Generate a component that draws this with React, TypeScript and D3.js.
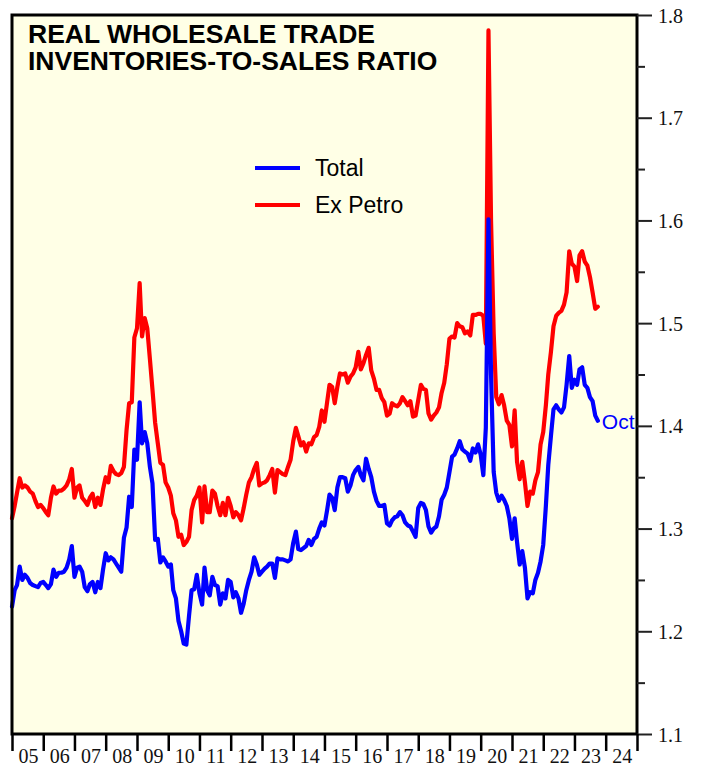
import React, { useEffect, useRef } from "react";
import * as d3 from "d3";

// monthly data, Jan 2005 .. Oct 2023
const START = new Date(2005, 0, 1);

const yearLabels = ["05", "06", "07", "08", "09", "10", "11", "12", "13", "14",
  "15", "16", "17", "18", "19", "20", "21", "22", "23", "24"];

const yMajorTicks = [1.1, 1.2, 1.3, 1.4, 1.5, 1.6, 1.7, 1.8];
const yMinorTicks = [1.15, 1.25, 1.35, 1.45, 1.55, 1.65, 1.75];

const totalRatio = [
  1.224, 1.240, 1.245, 1.263, 1.250, 1.255, 1.252, 1.247, 1.245, 1.244, 1.243, 1.247,
  1.248, 1.245, 1.242, 1.246, 1.260, 1.253, 1.257, 1.257, 1.258, 1.262, 1.270, 1.283,
  1.253, 1.262, 1.263, 1.258, 1.243, 1.239, 1.246, 1.248, 1.238, 1.248, 1.242, 1.260,
  1.276, 1.269, 1.272, 1.270, 1.266, 1.262, 1.258, 1.291, 1.301, 1.331, 1.321, 1.377,
  1.367, 1.423, 1.383, 1.394, 1.383, 1.360, 1.344, 1.289, 1.290, 1.267, 1.272, 1.268,
  1.263, 1.265, 1.240, 1.232, 1.210, 1.200, 1.188, 1.187, 1.215, 1.240, 1.241, 1.255,
  1.237, 1.226, 1.262, 1.240, 1.235, 1.253, 1.245, 1.244, 1.226, 1.237, 1.232, 1.250,
  1.248, 1.233, 1.238, 1.232, 1.218, 1.227, 1.240, 1.250, 1.258, 1.272, 1.265, 1.255,
  1.258, 1.261, 1.263, 1.266, 1.266, 1.252, 1.271, 1.270, 1.270, 1.269, 1.268, 1.270,
  1.286, 1.297, 1.280, 1.279, 1.281, 1.283, 1.289, 1.284, 1.290, 1.292, 1.300, 1.306,
  1.303, 1.318, 1.333, 1.330, 1.318, 1.340, 1.350, 1.350, 1.349, 1.336, 1.342, 1.352,
  1.357, 1.360, 1.352, 1.347, 1.368, 1.358, 1.350, 1.336, 1.327, 1.322, 1.322, 1.323,
  1.305, 1.303, 1.308, 1.311, 1.312, 1.316, 1.313, 1.306, 1.303, 1.302, 1.297, 1.292,
  1.320, 1.325, 1.324, 1.318, 1.302, 1.296, 1.300, 1.302, 1.312, 1.328, 1.333, 1.340,
  1.355, 1.370, 1.372, 1.378, 1.385, 1.377, 1.375, 1.373, 1.366, 1.378, 1.374, 1.382,
  1.372, 1.352, 1.398, 1.601, 1.450, 1.355, 1.335, 1.327, 1.332, 1.328, 1.322, 1.310,
  1.290, 1.310, 1.287, 1.265, 1.278, 1.262, 1.232, 1.238, 1.237, 1.250, 1.257, 1.268,
  1.284, 1.322, 1.362, 1.390, 1.416, 1.420, 1.416, 1.413, 1.418, 1.440, 1.468, 1.437,
  1.445, 1.440, 1.455, 1.457, 1.440, 1.437, 1.428, 1.424, 1.410, 1.405,
];

const exPetroRatio = [
  1.310, 1.322, 1.335, 1.349, 1.340, 1.342, 1.340, 1.336, 1.334, 1.327, 1.321, 1.323,
  1.320, 1.316, 1.313, 1.330, 1.341, 1.334, 1.337, 1.337, 1.339, 1.342, 1.348, 1.358,
  1.330, 1.340, 1.342, 1.330, 1.327, 1.323, 1.330, 1.334, 1.321, 1.330, 1.323, 1.338,
  1.350, 1.345, 1.361, 1.356, 1.353, 1.352, 1.354, 1.360, 1.396, 1.422, 1.423, 1.486,
  1.495, 1.539, 1.487, 1.505, 1.495, 1.465, 1.435, 1.403, 1.383, 1.364, 1.362, 1.345,
  1.340, 1.332, 1.315, 1.308, 1.292, 1.294, 1.284, 1.287, 1.292, 1.318, 1.328, 1.332,
  1.340, 1.306, 1.341, 1.316, 1.316, 1.337, 1.334, 1.322, 1.313, 1.325, 1.313, 1.330,
  1.322, 1.311, 1.316, 1.313, 1.308, 1.320, 1.333, 1.345, 1.350, 1.358, 1.364, 1.342,
  1.344, 1.345, 1.347, 1.352, 1.358, 1.335, 1.357, 1.355, 1.353, 1.352, 1.360, 1.367,
  1.385, 1.398, 1.390, 1.381, 1.384, 1.375, 1.383, 1.382, 1.389, 1.391, 1.399, 1.415,
  1.404, 1.423, 1.440, 1.438, 1.422, 1.438, 1.451, 1.450, 1.451, 1.442, 1.448, 1.451,
  1.457, 1.472, 1.455, 1.461, 1.469, 1.476, 1.454, 1.446, 1.435, 1.435, 1.427, 1.423,
  1.410, 1.412, 1.422, 1.420, 1.419, 1.422, 1.428, 1.424, 1.420, 1.424, 1.409, 1.410,
  1.425, 1.440, 1.436, 1.435, 1.412, 1.406, 1.410, 1.413, 1.418, 1.432, 1.442, 1.460,
  1.485, 1.487, 1.486, 1.500, 1.497, 1.496, 1.490, 1.492, 1.488, 1.508, 1.508, 1.509,
  1.509, 1.507, 1.480, 1.785, 1.600, 1.490, 1.428, 1.421, 1.430, 1.420, 1.405, 1.401,
  1.380, 1.415, 1.365, 1.348, 1.365, 1.345, 1.322, 1.336, 1.334, 1.347, 1.355, 1.382,
  1.394, 1.420, 1.450, 1.472, 1.497, 1.507, 1.510, 1.512, 1.518, 1.530, 1.570, 1.558,
  1.555, 1.541, 1.566, 1.570, 1.560, 1.556, 1.545, 1.530, 1.514, 1.516,
];

const W = 701;
const H = 767;

const App = () => {
  const svgRef = useRef(null);

  useEffect(() => {
    const svg = d3.select(svgRef.current);
    svg.selectAll("*").remove();

    const dims = { left: 12, right: 637, top: 15, bottom: 734 };

    const x = d3.scaleTime()
      .domain([START, new Date(2025, 0, 1)])
      .range([dims.left, dims.right]);
    const y = d3.scaleLinear()
      .domain([1.1, 1.8])
      .range([dims.bottom, dims.top]);

    const toSeries = (vals) => vals.map((v, i) => ({ date: d3.timeMonth.offset(START, i), v }));

    /** plot background */
    svg.append("rect")
      .attr("x", dims.left).attr("y", dims.top)
      .attr("width", dims.right - dims.left)
      .attr("height", dims.bottom - dims.top)
      .attr("fill", "#ffffe6");

    /** lines: ex petro first, total on top */
    const line = d3.line().x(d => x(d.date)).y(d => y(d.v));
    [[exPetroRatio, "#ff0000"], [totalRatio, "#0000ff"]].forEach(([vals, color]) => {
      svg.append("path")
        .datum(toSeries(vals))
        .attr("d", line)
        .attr("fill", "none")
        .attr("stroke", color)
        .attr("stroke-width", 4.2)
        .attr("stroke-linejoin", "round")
        .attr("stroke-linecap", "round");
    });

    /** frame */
    svg.append("rect")
      .attr("x", dims.left).attr("y", dims.top)
      .attr("width", dims.right - dims.left)
      .attr("height", dims.bottom - dims.top)
      .attr("fill", "none")
      .attr("stroke", "#000")
      .attr("stroke-width", 3);

    /** right axis */
    const yAxis = svg.append("g")
      .attr("transform", `translate(${dims.right},0)`)
      .call(d3.axisRight(y).tickValues(yMajorTicks).tickSize(15).tickFormat(d3.format(".1f")))
      .call(g => g.select(".domain").remove());
    yAxis.selectAll("line").attr("stroke", "#222").attr("stroke-width", 2);
    yAxis.selectAll("text")
      .attr("x", 21)
      .attr("dy", "0.35em")
      .attr("fill", "#111")
      .style("font-family", "'Liberation Serif', 'Times New Roman', serif")
      .style("font-size", "20px");

    const yMinor = svg.append("g")
      .attr("transform", `translate(${dims.right},0)`)
      .call(d3.axisRight(y).tickValues(yMinorTicks).tickSize(8).tickFormat(""))
      .call(g => g.select(".domain").remove());
    yMinor.selectAll("line").attr("stroke", "#222").attr("stroke-width", 2);

    /** bottom axis */
    const xAxis = svg.append("g")
      .attr("transform", `translate(0,${dims.bottom})`)
      .call(d3.axisBottom(x).ticks(d3.timeYear.every(1)).tickSize(17).tickFormat(""))
      .call(g => g.select(".domain").remove());
    xAxis.selectAll("line").attr("stroke", "#000").attr("stroke-width", 2.5);

    svg.append("g")
      .selectAll("text")
      .data(yearLabels)
      .join("text")
      .attr("x", (d, i) => x(new Date(2005 + i, 6, 1)) + 1)
      .attr("y", dims.bottom + 29)
      .attr("text-anchor", "middle")
      .attr("fill", "#111")
      .style("font-family", "'Liberation Serif', 'Times New Roman', serif")
      .style("font-size", "20px")
      .text(d => d);

    /** title, two lines */
    ["REAL WHOLESALE TRADE", "INVENTORIES-TO-SALES RATIO"].forEach((t, i) => {
      svg.append("text")
        .attr("x", 28)
        .attr("y", 43 + i * 27)
        .style("font-family", "'Liberation Sans', Arial, sans-serif")
        .style("font-size", "26.5px")
        .style("font-weight", "bold")
        .attr("fill", "#000")
        .text(t);
    });

    /** legend */
    const legend = [
      { name: "Total", color: "#0000ff" },
      { name: "Ex Petro", color: "#ff0000" },
    ];
    const lg = svg.append("g").attr("transform", "translate(255,168)");
    legend.forEach((item, i) => {
      lg.append("line")
        .attr("x1", 0).attr("x2", 45)
        .attr("y1", i * 37).attr("y2", i * 37)
        .attr("stroke", item.color)
        .attr("stroke-width", 4);
      lg.append("text")
        .attr("x", 60).attr("y", i * 37 + 8)
        .style("font-family", "'Liberation Sans', Arial, sans-serif")
        .style("font-size", "23px")
        .attr("fill", "#000")
        .text(item.name);
    });

    /** last value marker */
    const last = totalRatio.length - 1;
    svg.append("text")
      .attr("x", x(d3.timeMonth.offset(START, last)) + 4)
      .attr("y", y(totalRatio[last]) + 8)
      .style("font-family", "'Liberation Sans', Arial, sans-serif")
      .style("font-size", "21px")
      .attr("fill", "#0000ff")
      .text("Oct");
  }, []);

  return (
    <svg
      ref={svgRef}
      width={W}
      height={H}
      style={{ position: "absolute", left: 0, top: 0, background: "#fff" }}
    />
  );
};

export default App;
